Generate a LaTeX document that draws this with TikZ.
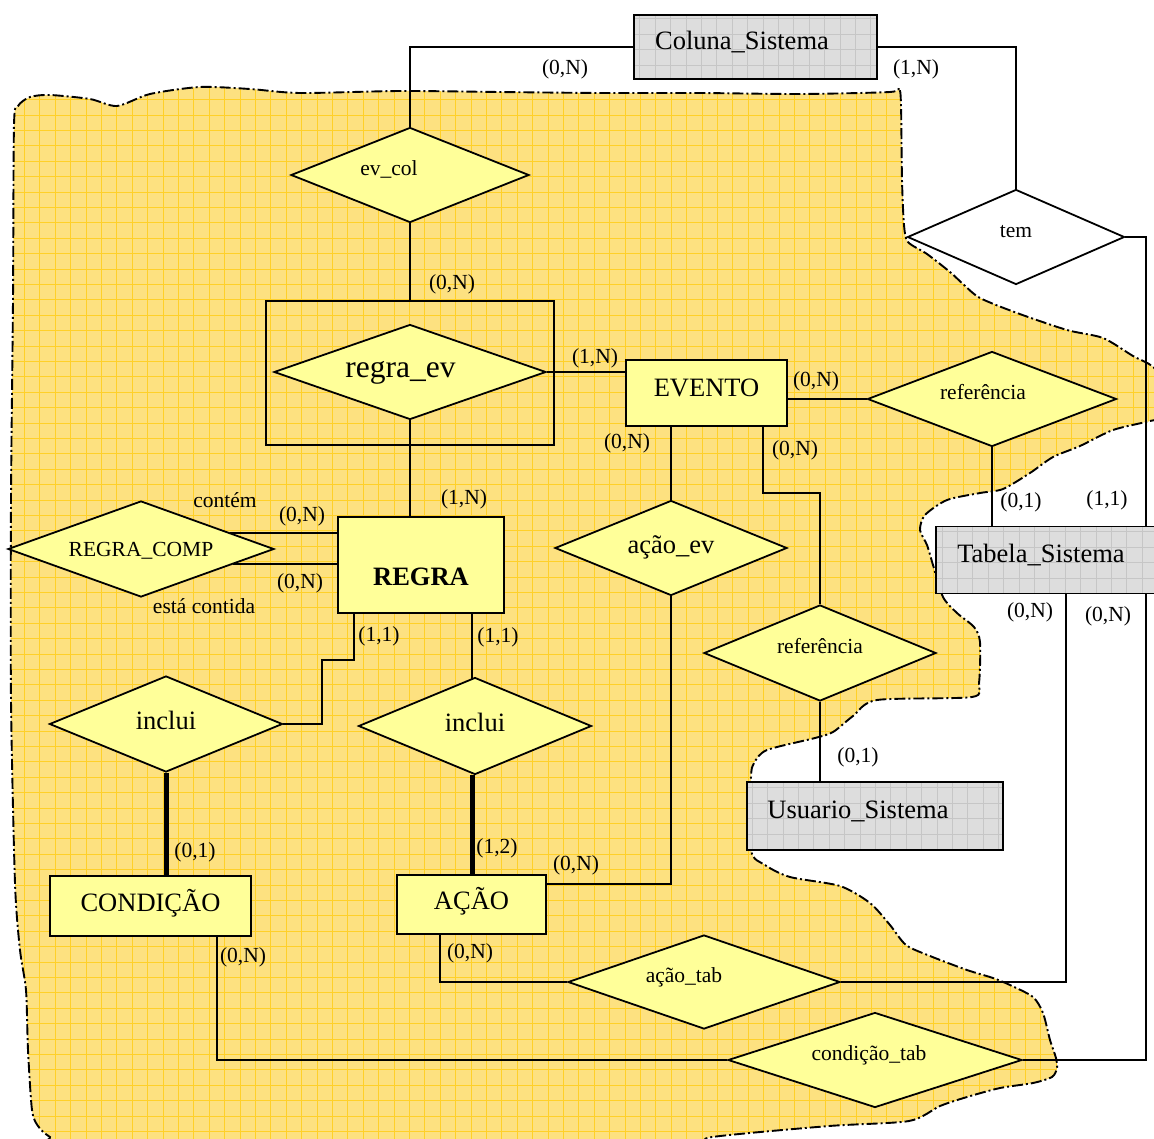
\documentclass[tikz,border=0pt]{standalone}
\usepackage{fontspec}
\setmainfont{Liberation Serif}
\usetikzlibrary{shapes.geometric,calc}
\pgfdeclarelayer{blob}
\pgfdeclarelayer{links}
\pgfsetlayers{blob,links,main}

\definecolor{blobfill}{RGB}{253,225,128}
\definecolor{blobgrid}{RGB}{255,208,40}
\definecolor{entfill}{RGB}{255,255,153}
\definecolor{grayfill}{RGB}{221,221,221}
\definecolor{graygrid}{RGB}{198,198,198}

\newcommand\cardfont{\fontsize{21.5}{24}\selectfont}
\newcommand\entfont{\fontsize{26.5}{30}\selectfont}
\newcommand\bigrelfont{\fontsize{31.5}{36}\selectfont}

\newcommand\blobpath{plot[smooth cycle,tension=0.45] coordinates {
 (14,125) (18,106) (30,97) (50,95) (90,99) (117,106) (150,94) (200,87) (250,89)
 (300,93) (400,91) (500,92) (600,93) (700,93) (800,94) (890,92) (899,88)
 (901,105) (902,180) (904,225) (908,242) (927,254) (950,272) (963,284) (980,298)
 (1017,313) (1067,330) (1103,338) (1133,356) (1152,366) (1168,385) (1168,415)
 (1150,421) (1113,430) (1080,446) (1053,457) (1030,473) (1003,489) (980,493)
 (947,500) (925,515) (920,530) (927,545) (933,565) (943,597) (957,613)
 (974,627) (980,642) (979,683) (972,697) (877,700) (853,716) (833,732)
 (815,738) (767,750) (754,763) (751,778) (751,850) (765,865) (790,877)
 (840,886) (870,903) (890,925) (906,945) (930,956) (967,970) (993,978)
 (1010,985) (1033,997) (1043,1013) (1050,1040) (1056,1058) (1057,1068)
 (1052,1077) (1033,1083) (1000,1088) (967,1097) (940,1106) (909,1121)
 (829,1126) (712,1137) (650,1150) (80,1152) (50,1137) (38,1126) (32,1110)
 (28,1050) (26,990) (20,950) (15,883) (11,700) (11,500) (13,300)}}

\tikzset{
 lw/.style={line width=1.8pt},
 ent/.style={rectangle, draw, lw, fill=entfill, inner sep=0pt, font=\entfont,
   text height=15pt, text depth=5pt},
 gent/.style={ent, fill=grayfill, text height=13pt, text depth=8pt,
   path picture={\draw[graygrid, line width=0.7pt]
     (path picture bounding box.south west) grid[step=15.4pt]
     (path picture bounding box.north east);}},
 rel/.style={diamond, aspect=2.5, draw, lw, fill=entfill, inner sep=0pt,
   font=\cardfont, text height=10pt, text depth=10pt},
 bigrel/.style={rel, font=\entfont, text height=18pt, text depth=8pt},
 card/.style={font=\cardfont, inner sep=0pt},
 link/.style={lw},
 boldlink/.style={line width=5pt},
 blobline/.style={line width=1.9pt, dash pattern=on 11pt off 3pt on 2pt off 3pt},
}

\begin{document}
\begin{tikzpicture}[x=1pt,y=-1pt]
\useasboundingbox (0,0) rectangle (1154,1138);

% ---------- nodes ----------
\node[gent, minimum width=243pt, minimum height=64pt] (cs) at (755.5,47) {Coluna\_Sistema\hspace*{27pt}};
\node[rel, minimum width=238pt, minimum height=95pt] (evcol) at (410,175) {ev\_col\hspace*{42pt}};
\node[rel, fill=white, minimum width=217pt, minimum height=95pt] (tem) at (1016,237) {tem};
\node[draw, lw, minimum width=288pt, minimum height=144pt, inner sep=0pt] (agg) at (410,373) {};
\node[rel, font=\bigrelfont, text height=20pt, text depth=10pt, minimum width=272pt, minimum height=95pt] (regraev) at (410,372) {regra\_ev\hspace*{19pt}};
\node[ent, text height=15pt, text depth=8pt, minimum width=161pt, minimum height=66pt] (evento) at (706.5,393) {EVENTO};
\node[rel, minimum width=249pt, minimum height=95pt] (ref1) at (992,399) {referência\hspace*{18pt}};
\node[gent, minimum width=224pt, minimum height=67pt] (tab) at (1048,560) {Tabela\_Sistema\hspace*{14pt}};
\node[bigrel, minimum width=232pt, minimum height=95pt] (acaoev) at (671,548) {ação\_ev};
\node[rel, minimum width=232pt, minimum height=96pt] (ref2) at (820,653) {referência};
\node[gent, minimum width=256pt, minimum height=68pt] (usu) at (875,816) {Usuario\_Sistema\hspace*{34pt}};
\node[ent, font=\entfont\bfseries, text height=42pt, text depth=2pt, minimum width=166pt, minimum height=96pt] (regra) at (421,565) {REGRA};
\node[rel, text height=17pt, text depth=3pt, minimum width=266pt, minimum height=96pt] (rc) at (141,549) {REGRA\_COMP};
\node[bigrel, minimum width=233pt, minimum height=96pt] (il) at (166,724) {inclui};
\node[bigrel, minimum width=233pt, minimum height=97pt] (ir) at (475,726) {inclui};
\node[ent, minimum width=201pt, minimum height=60pt] (cond) at (150.5,906) {CONDIÇÃO};
\node[ent, minimum width=149pt, minimum height=59pt] (acao) at (471.5,904.5) {AÇÃO};
\node[rel, minimum width=272pt, minimum height=94pt] (acaotab) at (704,982) {ação\_tab\hspace*{40pt}};
\node[rel, minimum width=294pt, minimum height=95pt] (condtab) at (875,1060) {condição\_tab\hspace*{12pt}};

% ---------- labels ----------
\node[card] (k1) at (565,69) {(0,N)};
\node[card] (k2) at (916,69) {(1,N)};
\node[card] (k3) at (452,284) {(0,N)};
\node[card] (k4) at (595,358) {(1,N)};
\node[card] (k5) at (816,381) {(0,N)};
\node[card] (k6) at (627,443) {(0,N)};
\node[card] (k7) at (795,450) {(0,N)};
\node[card] (k8) at (1021,502) {(0,1)};
\node[card] (k9) at (1107,500) {(1,1)};
\node[card] (k10) at (464,499) {(1,N)};
\node[card] (t1) at (225,500) {contém};
\node[card] (k11) at (302,516) {(0,N)};
\node[card] (k12) at (300,583) {(0,N)};
\node[card] (t2) at (204,606) {está contida};
\node[card] (k13) at (379,636) {(1,1)};
\node[card] (k14) at (498,637) {(1,1)};
\node[card] (k15) at (1030,612) {(0,N)};
\node[card] (k16) at (1108,616) {(0,N)};
\node[card] (k17) at (858,757) {(0,1)};
\node[card] (k18) at (195,852) {(0,1)};
\node[card] (k19) at (497,848) {(1,2)};
\node[card] (k20) at (576,865) {(0,N)};
\node[card] (k21) at (243,957) {(0,N)};
\node[card] (k22) at (470,953) {(0,N)};

% ---------- helper coordinates ----------
\coordinate (xr) at (1146,0);
\coordinate (xm) at (1066,0);
\coordinate (xi) at (472,0);
\coordinate (ek) at (763,493);
\coordinate (r1) at (354,660);
\coordinate (r2) at (322,660);
\coordinate (xc) at (217,0);
\coordinate (xa) at (440,0);
\coordinate (rc1) at ($(rc.east)!0.333!(rc.north)$);
\coordinate (rc2) at ($(rc.east)!0.31!(rc.south)$);
\coordinate (irt) at (472,680);

% ---------- connectors ----------
\begin{pgfonlayer}{links}
\draw[link] (cs.west) -| (evcol.north);
\draw[link] (cs.east) -| (tem.north);
\draw[link] (evcol.south) -- (evcol.south |- agg.north);
\draw[link] (regraev.east) -- (regraev.east -| evento.west);
\draw[link] (regraev.south) -- (regraev.south |- regra.north);
\draw[link] (ref1.west) -- (ref1.west -| evento.east);
\draw[link] (ref1.south) -- (ref1.south |- tab.north);
\draw[link] (tem.east) -| (xr |- tab.north);
\draw[link] (tab.south -| xm) |- (acaotab.east);
\draw[link] (tab.south -| xr) |- (condtab.east);
\draw[link] (acaoev.north) -- (acaoev.north |- evento.south);
\draw[link] (evento.south -| ek) -- (ek) -| (ref2.north);
\draw[link] (acaoev.south) |- ([yshift=20.5pt]acao.east);
\draw[link] (ref2.south) -- (ref2.south |- usu.north);
\draw[link] (regra.south -| r1) -- (r1) -- (r2) |- (il.east);
\draw[link] (regra.south -| irt) -- (irt);
\draw[boldlink] (ir.south -| xi) -- (xi |- acao.north);
\draw[boldlink] (il.south) -- (il.south |- cond.north);
\draw[link] (cond.south -| xc) |- (condtab.west);
\draw[link] (acao.south -| xa) |- (acaotab.west);
\draw[link] (rc1) -- (rc1 -| regra.west);
\draw[link] (rc2) -- (rc2 -| regra.west);
\end{pgfonlayer}

% ---------- background blob ----------
\begin{pgfonlayer}{blob}
\fill[white] (0,0) rectangle (1154,1138);
\fill[blobfill] \blobpath;
\begin{scope}
\clip \blobpath;
\draw[blobgrid, line width=0.8pt, shift={(8.9,7.2)}] (-20,1200) grid[step=15.4pt] (1200,-20);
\end{scope}
\draw[blobline] \blobpath;
\end{pgfonlayer}
\end{tikzpicture}
\end{document}
